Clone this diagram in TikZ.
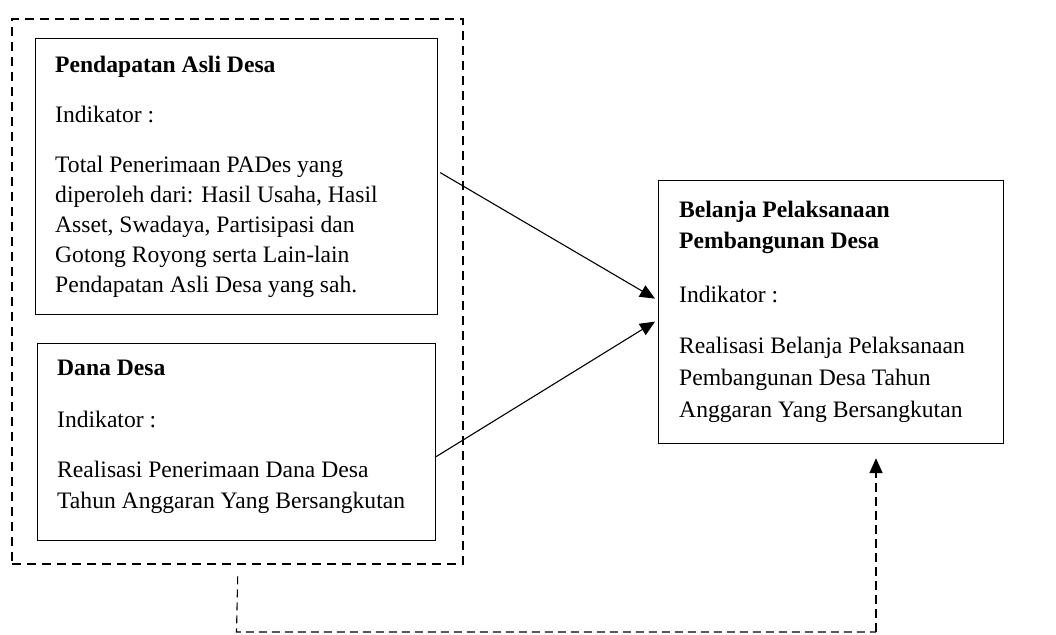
\documentclass[tikz,border=0pt]{standalone}
\usepackage{fontspec}
\setmainfont{Liberation Serif}
\usetikzlibrary{arrows.meta,calc}
\begin{document}
\begin{tikzpicture}[x=1pt,y=-1pt,
  box/.style={draw,line width=1.2pt,rectangle,inner sep=0pt,anchor=north west},
  txt/.style={anchor=base west,inner sep=0pt,align=left,font=\fontsize{23.6}{30.5}\selectfont},
  btxt/.style={txt,font=\fontsize{23.6}{31}\selectfont\bfseries},
  outerdash/.style={draw,line width=2.4pt,dash pattern=on 9pt off 6pt},
  conn/.style={line width=1.1pt,-{Triangle[length=15pt,width=13pt]}},
  dconn/.style={line width=1.6pt,dash pattern=on 8pt off 5pt}]
\useasboundingbox (0,0) rectangle (1056,634);
% outer dashed group
\node[box,outerdash,minimum width=451pt,minimum height=545pt] (outer) at (11,18) {};
% box 1
\node[box,minimum width=402pt,minimum height=276pt] (b1) at (35,38) {};
\node[btxt] (t1a) at (55,72) {Pendapatan Asli Desa};
\node[txt] (t1b) at (55,122) {Indikator :};
\node[txt,font=\fontsize{23.6}{29.8}\selectfont] (t1c) at (55,292) {Total Penerimaan PADes yang\\diperoleh dari: Hasil Usaha, Hasil\\Asset, Swadaya, Partisipasi dan\\Gotong Royong serta Lain-lain\\Pendapatan Asli Desa yang sah.};
% box 2
\node[box,minimum width=398pt,minimum height=197pt] (b2) at (37,343) {};
\node[btxt] (t2a) at (57,375) {Dana Desa};
\node[txt] (t2b) at (57,427) {Indikator :};
\node[txt,font=\fontsize{23.6}{31}\selectfont] (t2c) at (57,508) {Realisasi Penerimaan Dana Desa\\Tahun Anggaran Yang Bersangkutan};
% box 3
\node[box,minimum width=345pt,minimum height=263pt] (b3) at (658,180) {};
\node[btxt] (t3a) at (679,248) {Belanja Pelaksanaan\\Pembangunan Desa};
\node[txt] (t3b) at (679,302) {Indikator :};
\node[txt,font=\fontsize{23.6}{32}\selectfont] (t3c) at (679,417) {Realisasi Belanja Pelaksanaan\\Pembangunan Desa Tahun\\Anggaran Yang Bersangkutan};
% arrows
\draw[conn] ($(b1.east)+(2,-4)$) -- ($(b3.west)+(-3,-13.5)$);
\draw[conn] ($(b2.east)+(0,14.5)$) -- ($(b3.west)+(-3,9.5)$);
% dashed feedback connector
\coordinate (d1) at ($(outer.south)+(0,11)$);
\coordinate (d2) at (236.5,632);
\coordinate (d3) at (876,632);
\coordinate (d4) at ($(b3.south west)+(218,14)$);
\draw[dconn,line width=1.1pt] (d1) -- (d2) -- (d3);
\draw[dconn,line width=1.8pt,dash pattern=on 9pt off 5pt,-{Triangle[length=15pt,width=13pt]}] (d3) -- (d4);
\end{tikzpicture}
\end{document}
